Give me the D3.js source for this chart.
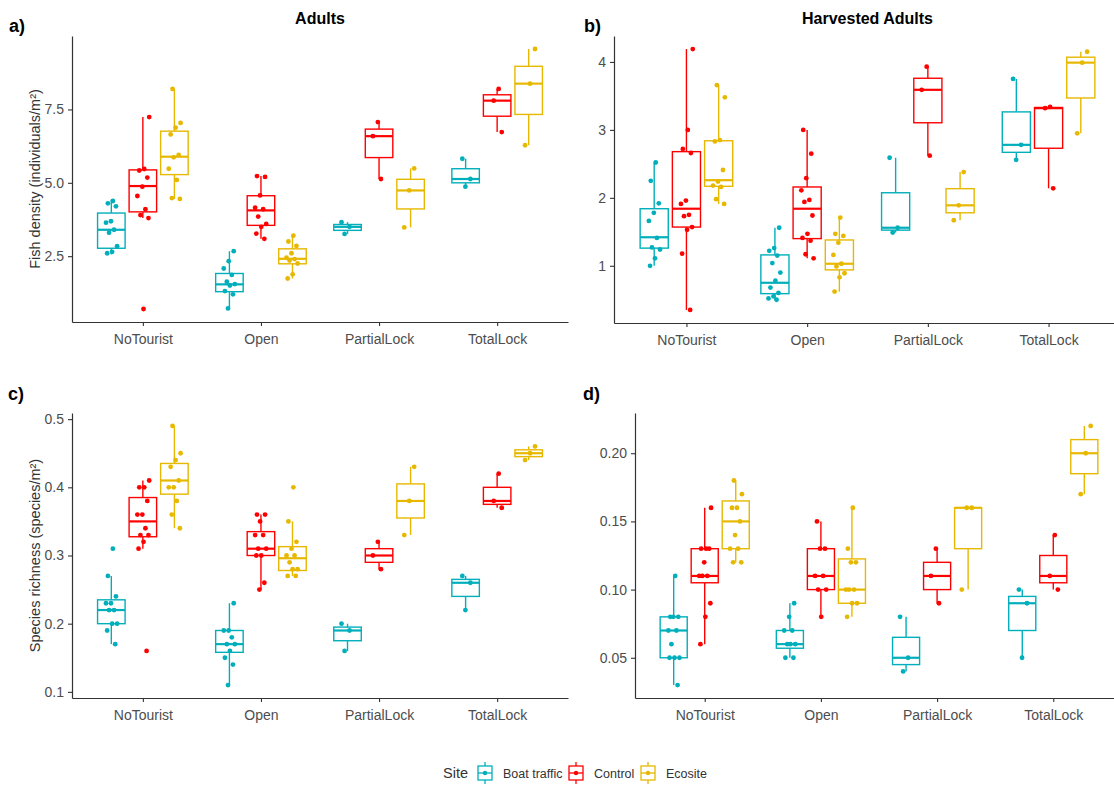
<!DOCTYPE html>
<html><head><meta charset="utf-8">
<script src="https://cdn.jsdelivr.net/npm/d3@7"></script>
<style>
body{margin:0;background:#fff}
text{font-family:"Liberation Sans",Arial,sans-serif}
</style>
</head><body>
<svg id="chart" width="1114" height="789"></svg>
<script>
const categories = ["NoTourist", "Open", "PartialLock", "TotalLock"];
const sites = ["Boat traffic", "Control", "Ecosite"];
const siteColors = ["#00AFBB", "#FF0000", "#E7B800"];

// a) Adults fish density: [category][site] -> values
const adultsPoints = [
  [[4.38, 4.3, 4.2, 3.69, 3.64, 3.4, 3.3, 2.84, 2.65, 2.6],
   [7.24, 5.47, 5.42, 5.18, 4.87, 4.55, 4.1, 3.9, 3.8, 0.7],
   [8.2, 7.04, 6.88, 6.65, 5.95, 5.87, 5.48, 5.1, 4.48, 4.45]],
  [[2.67, 2.33, 2.08, 1.86, 1.63, 1.55, 1.5, 1.31, 1.2, 0.72],
   [5.23, 5.2, 4.57, 4.15, 4.1, 3.85, 3.6, 3.5, 3.27, 3.09],
   [3.2, 3.0, 2.85, 2.6, 2.45, 2.4, 2.35, 2.25, 1.88, 1.74]],
  [[3.66, 3.5, 3.26], [7.07, 6.59, 5.13], [5.49, 4.74, 3.48]],
  [[5.82, 5.13, 4.87], [8.2, 7.8, 6.73], [9.56, 8.38, 6.28]]
];
// box stats [lower whisker, Q1, median, Q3, upper whisker]
const adultsBoxes = [
  [[2.56, 2.77, 3.40, 3.97, 4.42], [3.80, 4.01, 4.89, 5.44, 7.24], [4.45, 5.28, 5.89, 6.76, 8.20]],
  [[0.72, 1.29, 1.54, 1.91, 2.67], [3.09, 3.55, 4.06, 4.56, 5.23], [1.74, 2.24, 2.41, 2.75, 3.20]],
  [[3.26, 3.38, 3.50, 3.58, 3.66], [5.13, 5.86, 6.59, 6.83, 7.07], [3.48, 4.11, 4.74, 5.12, 5.49]],
  [[4.87, 5.00, 5.13, 5.48, 5.82], [6.73, 7.27, 7.80, 8.00, 8.20], [6.28, 7.33, 8.38, 8.97, 9.56]]
];
const adultsTicks = [2.5, 5.0, 7.5];

// b) Harvested adults fish density
const harvestedPoints = [
  [[2.52, 2.25, 1.92, 1.78, 1.66, 1.41, 1.27, 1.24, 1.11, 1.0],
   [4.19, 3.0, 2.72, 2.66, 1.96, 1.91, 1.75, 1.73, 1.57, 1.53, 1.18, 0.35],
   [3.66, 3.48, 2.85, 2.83, 2.41, 2.24, 2.18, 2.16, 1.98, 1.91]],
  [[1.56, 1.26, 1.22, 1.15, 1.04, 0.9, 0.78, 0.68, 0.6, 0.55, 0.52, 0.5],
   [3.0, 2.65, 2.29, 2.11, 1.97, 1.94, 1.74, 1.47, 1.41, 1.37, 1.17, 1.11],
   [1.71, 1.47, 1.44, 1.34, 1.16, 1.03, 0.99, 0.89, 0.83, 0.62]],
  [[2.59, 1.56, 1.49], [3.93, 3.59, 2.62], [2.38, 1.89, 1.67]],
  [[3.75, 2.78, 2.56], [3.34, 3.32, 2.14], [4.15, 3.99, 2.95]]
];
const harvestedBoxes = [
  [[1.00, 1.26, 1.42, 1.84, 2.52], [0.35, 1.57, 1.84, 2.68, 4.19], [1.91, 2.17, 2.26, 2.84, 3.66]],
  [[0.50, 0.59, 0.75, 1.16, 1.56], [1.11, 1.40, 1.84, 2.16, 3.00], [0.62, 0.94, 1.03, 1.38, 1.71]],
  [[1.49, 1.525, 1.56, 2.075, 2.59], [2.62, 3.105, 3.59, 3.76, 3.93], [1.67, 1.78, 1.89, 2.135, 2.38]],
  [[2.56, 2.67, 2.78, 3.265, 3.75], [2.14, 2.73, 3.32, 3.33, 3.34], [2.95, 3.47, 3.99, 4.07, 4.15]]
];
const harvestedTicks = [1, 2, 3, 4];

// c) Adults species richness
const richnessPoints = [
  [[0.31, 0.27, 0.24, 0.23, 0.23, 0.22, 0.22, 0.2, 0.2, 0.19, 0.17],
   [0.41, 0.40, 0.40, 0.38, 0.36, 0.36, 0.34, 0.33, 0.33, 0.32, 0.31, 0.16],
   [0.49, 0.45, 0.44, 0.43, 0.41, 0.40, 0.40, 0.38, 0.36, 0.34]],
  [[0.23, 0.19, 0.19, 0.18, 0.17, 0.17, 0.16, 0.15, 0.14, 0.11],
   [0.36, 0.36, 0.35, 0.33, 0.33, 0.31, 0.31, 0.30, 0.30, 0.26, 0.25],
   [0.40, 0.35, 0.32, 0.31, 0.30, 0.30, 0.29, 0.28, 0.28, 0.27, 0.27]],
  [[0.20, 0.19, 0.16], [0.32, 0.30, 0.28], [0.43, 0.38, 0.33]],
  [[0.27, 0.26, 0.22], [0.42, 0.38, 0.37], [0.46, 0.45, 0.44]]
];
const richnessBoxes = [
  [[0.17, 0.20, 0.22, 0.235, 0.27], [0.31, 0.3275, 0.35, 0.385, 0.41], [0.34, 0.39, 0.41, 0.435, 0.49]],
  [[0.11, 0.158, 0.17, 0.19, 0.23], [0.25, 0.30, 0.31, 0.335, 0.36], [0.27, 0.278, 0.296, 0.313, 0.35]],
  [[0.16, 0.175, 0.19, 0.195, 0.20], [0.28, 0.29, 0.30, 0.31, 0.32], [0.33, 0.355, 0.38, 0.405, 0.43]],
  [[0.22, 0.24, 0.26, 0.265, 0.27], [0.37, 0.375, 0.38, 0.40, 0.42], [0.44, 0.445, 0.45, 0.455, 0.46]]
];
const richnessTicks = [0.1, 0.2, 0.3, 0.4, 0.5];

// d) Harvested species richness
const harvRichPoints = [
  [[0.11, 0.08, 0.08, 0.08, 0.07, 0.07, 0.06, 0.05, 0.05, 0.05, 0.03],
   [0.16, 0.13, 0.13, 0.13, 0.12, 0.11, 0.11, 0.11, 0.09, 0.08, 0.06],
   [0.18, 0.17, 0.16, 0.16, 0.15, 0.14, 0.13, 0.13, 0.12, 0.12]],
  [[0.09, 0.08, 0.07, 0.07, 0.06, 0.06, 0.06, 0.05, 0.05],
   [0.15, 0.13, 0.13, 0.11, 0.11, 0.10, 0.10, 0.08],
   [0.16, 0.13, 0.12, 0.12, 0.10, 0.10, 0.10, 0.09, 0.09, 0.08]],
  [[0.08, 0.05, 0.04], [0.13, 0.11, 0.09], [0.16, 0.16, 0.10]],
  [[0.10, 0.09, 0.05], [0.14, 0.11, 0.10], [0.22, 0.20, 0.17]]
];
const harvRichBoxes = [
  [[0.03, 0.05, 0.07, 0.08, 0.11], [0.06, 0.105, 0.11, 0.13, 0.16], [0.12, 0.13, 0.15, 0.165, 0.18]],
  [[0.05, 0.057, 0.06, 0.07, 0.09], [0.08, 0.10, 0.11, 0.13, 0.15], [0.08, 0.09, 0.10, 0.1225, 0.16]],
  [[0.04, 0.045, 0.05, 0.065, 0.08], [0.09, 0.10, 0.11, 0.12, 0.13], [0.10, 0.13, 0.16, 0.16, 0.16]],
  [[0.05, 0.07, 0.09, 0.095, 0.10], [0.10, 0.105, 0.11, 0.125, 0.14], [0.17, 0.185, 0.20, 0.21, 0.22]]
];
const harvRichTicks = [0.05, 0.10, 0.15, 0.20];

const svg = d3.select("#chart");
const axisColor = "#333333";
const tickTextColor = "#4D4D4D";

const panels = [
  {pts: adultsPoints, boxes: adultsBoxes, ticks: adultsTicks, fmt: d3.format(".1f"),
   left: 72, right: 568, top: 36, bottom: 322, tag: "a)", tagX: 9, tagY: 32,
   title: "Adults", ytitle: "Fish density (individuals/m²)"},
  {pts: harvestedPoints, boxes: harvestedBoxes, ticks: harvestedTicks, fmt: d3.format("d"),
   left: 614, right: 1121, top: 36, bottom: 323, tag: "b)", tagX: 584, tagY: 32,
   title: "Harvested Adults", ytitle: null},
  {pts: richnessPoints, boxes: richnessBoxes, ticks: richnessTicks, fmt: d3.format(".1f"),
   left: 72, right: 568, top: 413, bottom: 698, tag: "c)", tagX: 8, tagY: 400,
   title: null, ytitle: "Species richness (species/m²)"},
  {pts: harvRichPoints, boxes: harvRichBoxes, ticks: harvRichTicks, fmt: d3.format(".2f"),
   left: 635, right: 1123, top: 413, bottom: 698, tag: "d)", tagX: 583, tagY: 400,
   title: null, ytitle: null}
];

function jitter(i, s, c) {
  const v = ((i + 1) * 0.6180339887 + s * 0.37 + c * 0.21) % 1;
  return (v - 0.5) * 2;
}

panels.forEach(p => {
  const g = svg.append("g");
  const x = d3.scalePoint().domain(categories).range([p.left, p.right]).padding(0.6);
  const step = x.step();
  const all = p.pts.flat(2);
  const [mn, mx] = d3.extent(all);
  const pad = (mx - mn) * 0.05;
  const y = d3.scaleLinear().domain([mn - pad, mx + pad]).range([p.bottom, p.top]);
  const dodge = 0.267 * step;
  const bw = 0.233 * step;

  categories.forEach((cat, ci) => {
    sites.forEach((site, si) => {
      const cx = x(cat) + (si - 1) * dodge;
      const b = p.boxes[ci][si];
      const col = siteColors[si];
      const bg = g.append("g").attr("stroke", col).attr("fill", "none");
      bg.append("line").attr("x1", cx).attr("x2", cx).attr("y1", y(b[3])).attr("y2", y(b[4])).attr("stroke-width", 1.4);
      bg.append("line").attr("x1", cx).attr("x2", cx).attr("y1", y(b[1])).attr("y2", y(b[0])).attr("stroke-width", 1.4);
      bg.append("rect").attr("x", cx - bw / 2).attr("width", bw)
        .attr("y", y(b[3])).attr("height", Math.max(0.01, y(b[1]) - y(b[3])))
        .attr("fill", "#fff").attr("stroke-width", 1.4);
      bg.append("line").attr("x1", cx - bw / 2).attr("x2", cx + bw / 2)
        .attr("y1", y(b[2])).attr("y2", y(b[2])).attr("stroke-width", 2.2);
      p.pts[ci][si].forEach((v, i) => {
        g.append("circle").attr("cx", cx + jitter(i, si, ci) * 6.5).attr("cy", y(v))
          .attr("r", 2.4).attr("fill", col);
      });
    });
  });

  // axes
  const xa = g.append("g").attr("transform", `translate(0,${p.bottom})`)
    .call(d3.axisBottom(x).tickSize(4).tickSizeOuter(0).tickPadding(8));
  const ya = g.append("g").attr("transform", `translate(${p.left},0)`)
    .call(d3.axisLeft(y).tickValues(p.ticks).tickFormat(p.fmt).tickSize(4).tickSizeOuter(0).tickPadding(4));
  [xa, ya].forEach(a => {
    a.select(".domain").attr("stroke", axisColor).attr("stroke-width", 1.2);
    a.selectAll(".tick line").attr("stroke", axisColor).attr("stroke-width", 1.1);
    a.selectAll(".tick text").attr("fill", tickTextColor).attr("font-size", 14)
      .attr("font-family", "'Liberation Sans', Arial, sans-serif");
  });

  g.append("text").attr("x", p.tagX).attr("y", p.tagY).attr("font-size", 18)
    .attr("font-weight", "bold").attr("fill", "#000").text(p.tag);
  if (p.title) {
    g.append("text").attr("x", (p.left + p.right) / 2).attr("y", 24).attr("text-anchor", "middle")
      .attr("font-size", 16).attr("font-weight", "bold").attr("fill", "#000").text(p.title);
  }
  if (p.ytitle) {
    const cy = (p.top + p.bottom) / 2;
    g.append("text").attr("transform", `translate(40,${cy}) rotate(-90)`)
      .attr("text-anchor", "middle").attr("font-size", 14.5).attr("fill", "#333")
      .text(p.ytitle);
  }
});

// legend
const lg = svg.append("g");
lg.append("text").attr("x", 443).attr("y", 778).attr("font-size", 14.5).attr("fill", "#333").text("Site");
const keyX = [477, 568, 640];
const labX = [503, 594, 666];
sites.forEach((s, i) => {
  const kx = keyX[i], col = siteColors[i];
  const k = lg.append("g").attr("stroke", col).attr("fill", "none");
  k.append("line").attr("x1", kx + 8).attr("x2", kx + 8).attr("y1", 762).attr("y2", 784).attr("stroke-width", 1.3);
  k.append("rect").attr("x", kx + 1).attr("y", 766).attr("width", 14).attr("height", 14)
    .attr("fill", "#fff").attr("stroke-width", 1.3);
  k.append("line").attr("x1", kx + 1).attr("x2", kx + 15).attr("y1", 773).attr("y2", 773).attr("stroke-width", 1.3);
  lg.append("circle").attr("cx", kx + 8).attr("cy", 773).attr("r", 2.2).attr("fill", col);
  lg.append("text").attr("x", labX[i]).attr("y", 778).attr("font-size", 12.5).attr("fill", "#333").text(s);
});
</script>
</body></html>
